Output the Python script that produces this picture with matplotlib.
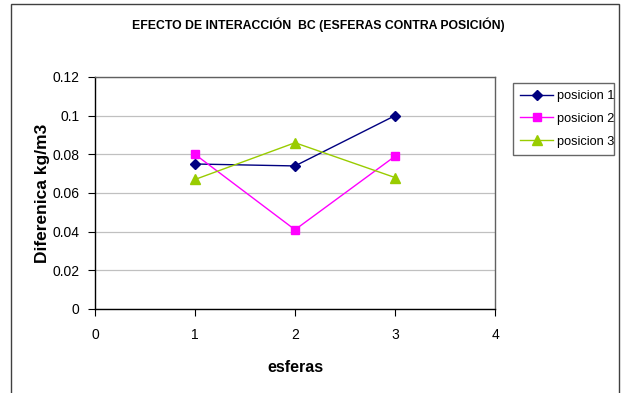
import matplotlib
matplotlib.use("Agg")
from matplotlib import pyplot as plt
from matplotlib.patches import Rectangle

esferas = [1, 2, 3]
posicion_1 = [0.075, 0.074, 0.100]
posicion_2 = [0.080, 0.041, 0.079]
posicion_3 = [0.067, 0.086, 0.068]
labels = ["posicion 1", "posicion 2", "posicion 3"]
y_ticks = [0, 0.02, 0.04, 0.06, 0.08, 0.1, 0.12]
y_tick_labels = ["0", "0.02", "0.04", "0.06", "0.08", "0.1", "0.12"]
x_ticks = [0, 1, 2, 3, 4]

plt.rcParams['font.family'] = ['Liberation Sans', 'DejaVu Sans']

fig = plt.figure(figsize=(6.21, 3.93), dpi=100)
ax = fig.add_axes([95 / 621, 1 - 309 / 393, 400 / 621, 232 / 393])

# outer chart frame (bottom is cut off in the original)
fig.add_artist(Rectangle((11 / 621, -0.05), 608 / 621, 1.05 - 4 / 393,
                         transform=fig.transFigure, fill=False,
                         edgecolor='#404040', linewidth=1.0))

ax.plot(esferas, posicion_1, color='#000080', marker='D', markersize=5.5,
        linewidth=1.0, label=labels[0])
ax.plot(esferas, posicion_2, color='#FF00FF', marker='s', markersize=5.5,
        linewidth=1.0, label=labels[1])
ax.plot(esferas, posicion_3, color='#99CC00', marker='^', markersize=6.5,
        linewidth=1.0, label=labels[2])

ax.set_xlim(0, 4)
ax.set_ylim(0, 0.12)
ax.set_xticks(x_ticks)
ax.set_yticks(y_ticks)
ax.set_yticklabels(y_tick_labels)
ax.tick_params(labelsize=10, direction='out', length=5, width=0.8, pad=6)
ax.tick_params(axis='x', pad=9)
ax.yaxis.grid(True, color='#c0c0c0', linewidth=0.9)
ax.set_axisbelow(True)

for side in ['left', 'bottom']:
    ax.spines[side].set_color('black')
    ax.spines[side].set_linewidth(1.0)
for side in ['top', 'right']:
    ax.spines[side].set_color('#606060')
    ax.spines[side].set_linewidth(1.0)

ax.set_xlabel('esferas', fontsize=11.5, fontweight='bold', labelpad=13)
ax.set_ylabel('Diferenica kg/m3', fontsize=12.5, fontweight='bold', labelpad=2)

fig.text(318 / 621, 1 - 25 / 393, 'EFECTO DE INTERACCIÓN  BC (ESFERAS CONTRA POSICIÓN)',
         ha='center', va='center', fontsize=8.8, fontweight='bold')

leg = ax.legend(loc='upper left', bbox_to_anchor=(513 / 621, 1 - 158 / 393, 101 / 621, 75 / 393),
                bbox_transform=fig.transFigure, mode='expand', fontsize=9.2,
                frameon=True, fancybox=False, borderaxespad=0, handlelength=2.6,
                labelspacing=0.85, borderpad=0.55, handletextpad=0.3)
leg.get_frame().set_edgecolor('#404040')
leg.get_frame().set_linewidth(1.0)

fig.savefig('out.png', dpi=100)
